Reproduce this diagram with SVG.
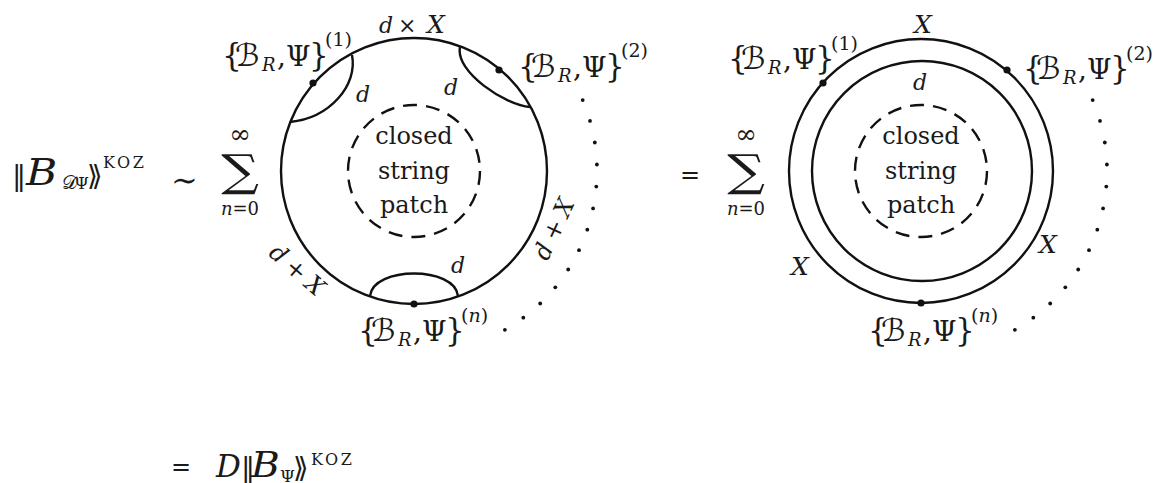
<svg xmlns="http://www.w3.org/2000/svg" width="1155" height="483" viewBox="0 0 1155 483">
<style>
.t{font-family:'DejaVu Serif',serif;fill:#1a1a1a}
.i{font-style:italic}
.c{font-family:'DejaVu Serif','DejaVu Sans',serif;fill:#1a1a1a}
.ln{fill:none;stroke:#111;stroke-width:2.4}
.ds{fill:none;stroke:#111;stroke-width:2.4;stroke-dasharray:14 9.04}
.pt{fill:#111}
.dd{fill:#111}
</style>
<defs>
<g id="brace">
<text class="t" x="0" y="0" font-size="31">{</text>
<text class="c" x="13" y="0" font-size="31">ℬ</text>
<text class="t i" x="40" y="5" font-size="18">R</text>
<text class="t" x="55" y="0" font-size="28">,</text>
<text class="t" x="64" y="0" font-size="28">Ψ</text>
<text class="t" x="87" y="0" font-size="31">}</text>
</g>
<g id="dotarc">
<circle class="dd" cx="582.7" cy="100.1" r="1.9"/>
<circle class="dd" cx="590.0" cy="120.9" r="1.9"/>
<circle class="dd" cx="594.8" cy="142.5" r="1.9"/>
<circle class="dd" cx="596.9" cy="164.5" r="1.9"/>
<circle class="dd" cx="596.3" cy="186.6" r="1.9"/>
<circle class="dd" cx="593.1" cy="208.4" r="1.9"/>
<circle class="dd" cx="587.3" cy="229.7" r="1.9"/>
<circle class="dd" cx="579.0" cy="250.2" r="1.9"/>
<circle class="dd" cx="568.2" cy="269.5" r="1.9"/>
<circle class="dd" cx="555.3" cy="287.3" r="1.9"/>
<circle class="dd" cx="540.2" cy="303.5" r="1.9"/>
<circle class="dd" cx="523.3" cy="317.7" r="1.9"/>
<circle class="dd" cx="504.9" cy="329.8" r="1.9"/>
</g>
</defs>

<g id="lhs">
<text class="c" x="12" y="185" font-size="28">‖</text>
<text class="t i" transform="translate(26,185) scale(1.15,1)" font-size="37">B</text>
<text class="c" x="62" y="189" font-size="19">𝒟</text>
<text class="t" x="74" y="189" font-size="17">Ψ</text>
<text class="c" x="87" y="185" font-size="28">⟫</text>
<text class="t" x="103" y="168" font-size="16" letter-spacing="2.5">KOZ</text>
<text class="c" x="171" y="191" font-size="32">∼</text>
</g>

<g id="sum-left">
<text class="t" x="240" y="143" font-size="26" text-anchor="middle">∞</text>
<text class="c" transform="translate(240,186) scale(1.2,1)" font-size="44" text-anchor="middle">∑</text>
<text class="t" x="240" y="215" font-size="18" text-anchor="middle"><tspan class="i">n</tspan>=0</text>
</g>

<g id="disk-left">
<circle class="ln" cx="414" cy="171" r="133"/>
<circle class="ds" cx="414" cy="171" r="66"/>
<text class="t" x="414" y="144" font-size="24" text-anchor="middle">closed</text>
<text class="t" x="414" y="179" font-size="24" text-anchor="middle">string</text>
<text class="t" x="414" y="213" font-size="24" text-anchor="middle">patch</text>
</g>

<g id="connectors">
<path class="ln" d="M352,55 C358,85 330,118 290,122"/>
<path class="ln" d="M460,47 C455,72 505,105 530,107"/>
<path class="ln" d="M370,296 C373,266 455,266 458,296"/>
</g>

<g id="points-left">
<circle class="pt" cx="313" cy="83" r="3.6"/>
<circle class="pt" cx="499" cy="70" r="3.6"/>
<circle class="pt" cx="414" cy="304" r="3.6"/>
</g>

<g id="labels-left">
<text class="t i" x="379" y="33" font-size="22">d</text>
<text class="t" x="398" y="33" font-size="22">×</text>
<text class="t i" x="427" y="33" font-size="25">X</text>
<text class="t i" x="356" y="102" font-size="22">d</text>
<text class="t i" x="444" y="95" font-size="22">d</text>
<text class="t i" x="451" y="273" font-size="22">d</text>
<text class="t" transform="translate(297,270) rotate(41)" y="8" font-size="24" text-anchor="middle"><tspan class="i">d</tspan><tspan dx="6">+</tspan><tspan class="i" dx="6">X</tspan></text>
<text class="t" transform="translate(554,229) rotate(-65)" y="8" font-size="24" text-anchor="middle"><tspan class="i">d</tspan><tspan dx="6">+</tspan><tspan class="i" dx="6">X</tspan></text>
</g>

<g id="br-l1"><use href="#brace" x="222" y="66"/><text class="t" x="325" y="46" font-size="19">(1)</text></g>
<g id="br-l2"><use href="#brace" x="518" y="77"/><text class="t" x="621" y="57" font-size="19">(2)</text></g>
<g id="br-ln"><use href="#brace" x="358" y="341"/><text class="t" x="461" y="322" font-size="19">(<tspan class="i">n</tspan>)</text></g>

<g id="dots-left"><use href="#dotarc"/></g>

<g id="eq-mid"><text class="t" x="680" y="183" font-size="24">=</text></g>

<g id="sum-right">
<text class="t" x="746" y="143" font-size="26" text-anchor="middle">∞</text>
<text class="c" transform="translate(746,186) scale(1.2,1)" font-size="44" text-anchor="middle">∑</text>
<text class="t" x="746" y="215" font-size="18" text-anchor="middle"><tspan class="i">n</tspan>=0</text>
</g>

<g id="disk-right">
<circle class="ln" cx="921" cy="171" r="132"/>
<circle class="ln" cx="922" cy="171" r="110"/>
<circle class="ds" cx="921" cy="171" r="66"/>
<text class="t" x="921" y="144" font-size="24" text-anchor="middle">closed</text>
<text class="t" x="921" y="179" font-size="24" text-anchor="middle">string</text>
<text class="t" x="921" y="213" font-size="24" text-anchor="middle">patch</text>
</g>

<g id="points-right">
<circle class="pt" cx="823" cy="83" r="3.6"/>
<circle class="pt" cx="1007" cy="70" r="3.6"/>
<circle class="pt" cx="921" cy="303" r="3.6"/>
</g>

<g id="labels-right">
<text class="t i" x="923" y="33" font-size="25" text-anchor="middle">X</text>
<text class="t i" x="920" y="90" font-size="22" text-anchor="middle">d</text>
<text class="t i" x="791" y="275" font-size="25">X</text>
<text class="t i" x="1039" y="253" font-size="25">X</text>
</g>

<g id="br-r1"><use href="#brace" x="728" y="69"/><text class="t" x="831" y="50" font-size="19">(1)</text></g>
<g id="br-r2"><use href="#brace" x="1023" y="79"/><text class="t" x="1126" y="60" font-size="19">(2)</text></g>
<g id="br-rn"><use href="#brace" x="868" y="341"/><text class="t" x="971" y="322" font-size="19">(<tspan class="i">n</tspan>)</text></g>

<g id="dots-right"><use href="#dotarc" x="510" y="0"/></g>

<g id="bottom">
<text class="t" x="171" y="475" font-size="24">=</text>
<text class="t i" x="216" y="477" font-size="31">D</text>
<text class="c" x="241" y="477" font-size="28">‖</text>
<text class="t i" transform="translate(251,477) scale(1.12,1)" font-size="35">B</text>
<text class="t" x="280" y="482" font-size="17">Ψ</text>
<text class="c" x="293" y="477" font-size="28">⟫</text>
<text class="t" x="311" y="465" font-size="16" letter-spacing="2.5">KOZ</text>
</g>
</svg>
